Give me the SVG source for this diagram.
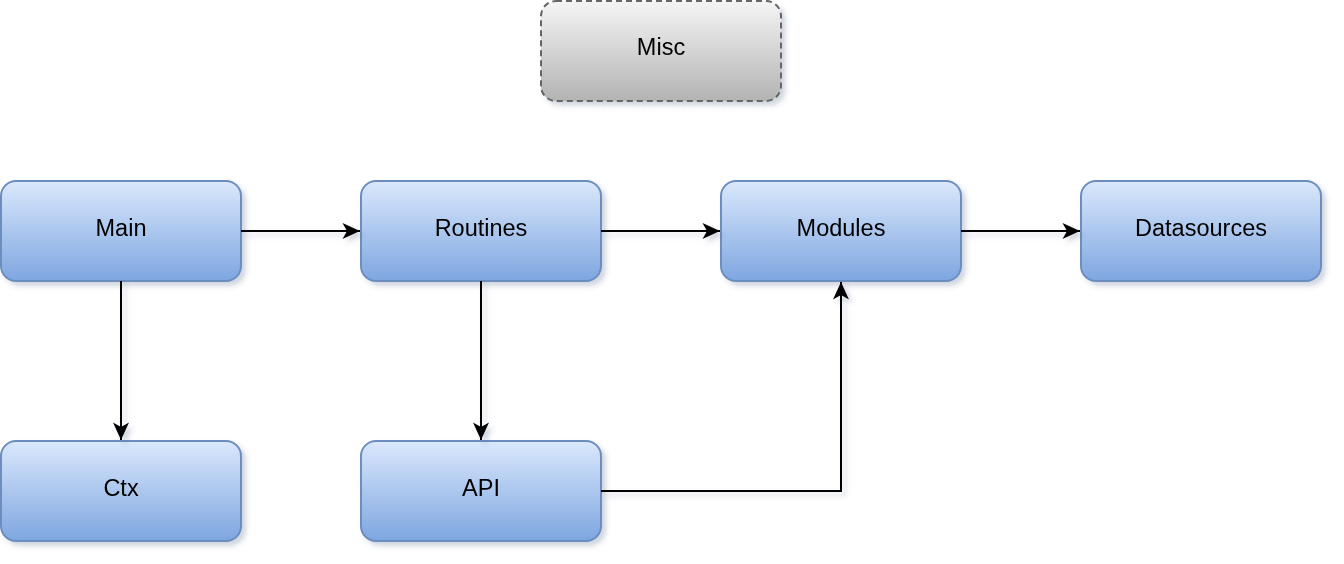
<svg xmlns="http://www.w3.org/2000/svg" width="1344" height="564" viewBox="0 0 1344 564">
<style>
.n rect{fill:url(#gb);stroke:#6c8ebf;stroke-width:2}
#misc rect{fill:url(#gg);stroke:#666666;stroke-dasharray:6 4}
text{font-family:"Liberation Sans",Arial,Helvetica,sans-serif;font-size:23.5px;fill:#000;text-anchor:middle}
.e path{fill:none;stroke:#000;stroke-width:2}
</style>
<defs>
<linearGradient id="gb" x1="0" y1="0" x2="0" y2="1"><stop offset="0" stop-color="#dae8fc"/><stop offset="1" stop-color="#7ea6e0"/></linearGradient>
<linearGradient id="gg" x1="0" y1="0" x2="0" y2="1"><stop offset="0" stop-color="#f5f5f5"/><stop offset="1" stop-color="#b3b3b3"/></linearGradient>
<filter id="sh" x="-10%" y="-20%" width="130%" height="150%"><feDropShadow dx="4" dy="4" stdDeviation="2.5" flood-color="#4a5a80" flood-opacity="0.25"/></filter>
<marker id="ar" viewBox="0 0 19 18" refX="18" refY="9" markerWidth="19" markerHeight="18" markerUnits="userSpaceOnUse" orient="auto"><path d="M18,9 L0.5,1 L5,9 L0.5,17 Z" fill="#000"/></marker>
</defs>
<g id="misc" class="n" filter="url(#sh)"><rect x="541" y="1" width="240" height="100" rx="15"/><text x="661" y="55">Misc</text></g>
<g id="main" class="n" filter="url(#sh)"><rect x="1" y="181" width="240" height="100" rx="15"/><text x="121" y="235.5">Main</text></g>
<g id="routines" class="n" filter="url(#sh)"><rect x="361" y="181" width="240" height="100" rx="15"/><text x="481" y="235.5">Routines</text></g>
<g id="modules" class="n" filter="url(#sh)"><rect x="721" y="181" width="240" height="100" rx="15"/><text x="841" y="235.5">Modules</text></g>
<g id="datasources" class="n" filter="url(#sh)"><rect x="1081" y="181" width="240" height="100" rx="15"/><text x="1201" y="235.5">Datasources</text></g>
<g id="ctx" class="n" filter="url(#sh)"><rect x="1" y="441" width="240" height="100" rx="15"/><text x="121" y="495.5">Ctx</text></g>
<g id="api" class="n" filter="url(#sh)"><rect x="361" y="441" width="240" height="100" rx="15"/><text x="481" y="495.5">API</text></g>
<g id="edges" class="e" filter="url(#sh)">
<path d="M241,231 H360" marker-end="url(#ar)"/>
<path d="M601,231 H720" marker-end="url(#ar)"/>
<path d="M961,231 H1080" marker-end="url(#ar)"/>
<path d="M121,281 V440" marker-end="url(#ar)"/>
<path d="M481,281 V440" marker-end="url(#ar)"/>
<path d="M601,491 H841 V282" marker-end="url(#ar)"/>
</g>
</svg>
